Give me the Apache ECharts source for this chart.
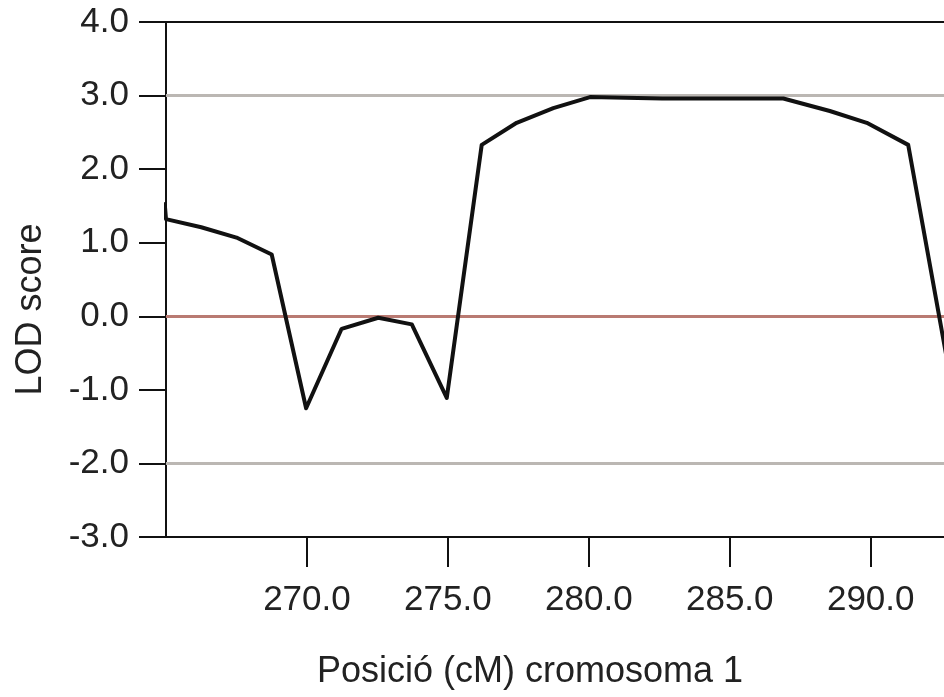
<!DOCTYPE html>
<html>
<head>
<meta charset="utf-8">
<script src="https://cdn.jsdelivr.net/npm/echarts@6/dist/echarts.min.js"></script>
<style>
html,body{margin:0;padding:0;background:#fff;}
#chart{width:944px;height:697px;}
</style>
</head>
<body>
<div id="chart"></div>
<script>
// Data
const positions = [264.95, 265.0, 266.25, 267.5, 268.75, 269.97, 271.23, 272.53, 273.72, 274.96, 276.2, 277.44, 278.74, 280.04, 281.3, 282.6, 283.9, 285.2, 286.9, 288.55, 289.86, 291.33, 292.9];
const lodScores = [1.55, 1.32, 1.21, 1.07, 0.84, -1.25, -0.17, -0.02, -0.11, -1.11, 2.33, 2.63, 2.83, 2.98, 2.97, 2.96, 2.96, 2.96, 2.96, 2.79, 2.63, 2.33, -1.0];
const xTickValues = [270, 275, 280, 285, 290];
const thresholdGray = [3.0, -2.0];
const thresholdZero = [0.0];
const xTitle = 'Posició (cM) cromosoma 1';
const yTitle = 'LOD score';

const FONT = "'Liberation Sans', Arial, sans-serif";
const chart = echarts.init(document.getElementById('chart'), null, {renderer: 'canvas'});

const curveData = positions.map((p, i) => [p, lodScores[i]]);

const grayLines = thresholdGray.map(v => ({yAxis: v, lineStyle: {color: '#bbb7b3', width: 3, type: 'solid'}}));
const zeroLines = thresholdZero.map(v => ({yAxis: v, lineStyle: {color: '#b97a72', width: 3, type: 'solid'}}));

const option = {
  backgroundColor: '#ffffff',
  animation: false,
  grid: {left: 166, right: 0, top: 22, bottom: 160, containLabel: false},
  xAxis: [{
    type: 'value',
    min: 265,
    max: 292.6,
    position: 'bottom',
    name: xTitle,
    nameLocation: 'middle',
    nameGap: 117,
    nameTextStyle: {fontFamily: FONT, fontSize: 36, color: '#222', padding: [0, 50, 0, 0]},
    axisLine: {show: true, onZero: false, lineStyle: {color: '#111', width: 2}},
    axisTick: {show: true, customValues: xTickValues, length: 30, inside: false, lineStyle: {color: '#111', width: 2}},
    axisLabel: {show: true, customValues: xTickValues, margin: 46, fontFamily: FONT, fontSize: 35, color: '#222',
      formatter: v => v.toFixed(1)},
    splitLine: {show: false}
  }, {
    type: 'value',
    min: 265,
    max: 292.6,
    position: 'top',
    axisLine: {show: true, onZero: false, lineStyle: {color: '#111', width: 2}},
    axisTick: {show: false},
    axisLabel: {show: false},
    splitLine: {show: false}
  }],
  yAxis: {
    type: 'value',
    min: -3,
    max: 4,
    interval: 1,
    name: yTitle,
    nameLocation: 'middle',
    nameGap: 117,
    nameRotate: 90,
    nameTextStyle: {fontFamily: FONT, fontSize: 36, color: '#222', padding: [0, 60, 0, 0]},
    axisLine: {show: true, onZero: false, lineStyle: {color: '#111', width: 2}},
    axisTick: {show: true, length: 27, inside: false, lineStyle: {color: '#111', width: 2}},
    axisLabel: {margin: 37, fontFamily: FONT, fontSize: 35, color: '#222', formatter: v => v.toFixed(1)},
    splitLine: {show: false}
  },
  series: [{
    type: 'line',
    data: [],
    z: 1,
    silent: true,
    markLine: {
      silent: true,
      symbol: ['none', 'none'],
      label: {show: false},
      data: grayLines.concat(zeroLines),
      animation: false
    }
  }, {
    type: 'line',
    data: curveData,
    z: 5,
    symbol: 'none',
    clip: true,
    lineStyle: {color: '#111', width: 4, join: 'round'},
    silent: true
  }]
};
chart.setOption(option);
</script>
</body>
</html>
